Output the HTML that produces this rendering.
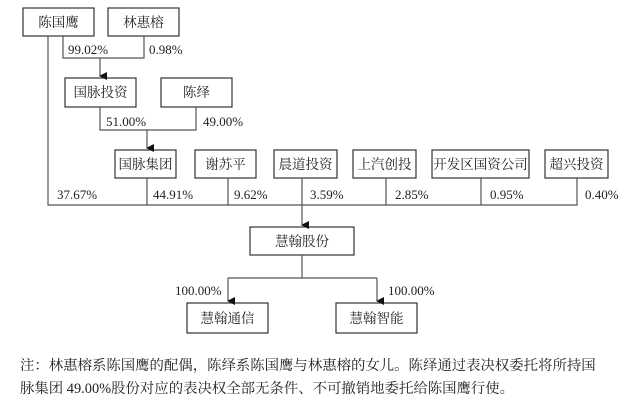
<!DOCTYPE html>
<html><head><meta charset="utf-8"><style>
body{margin:0;background:#fff;width:640px;height:405px;overflow:hidden}
svg text{font-family:"Liberation Serif","Noto Serif CJK SC",serif;fill:#222}
.b{fill:#fff;stroke:#333;stroke-width:1.2}
.l{stroke:#555;stroke-width:1.2;fill:none}
</style></head><body>
<svg width="640" height="405" xmlns="http://www.w3.org/2000/svg">
<defs><marker id="a" markerWidth="8" markerHeight="8" refX="4" refY="7" orient="auto" markerUnits="userSpaceOnUse"><path d="M0,0 L8,0 L4,8 z" fill="#111"/></marker></defs>
<g font-size="13.5" text-anchor="middle">
<rect class="b" x="23" y="8" width="71" height="28"/><text x="58.5" y="27">陈国鹰</text>
<rect class="b" x="108" y="8" width="71" height="28"/><text x="143.5" y="27">林惠榕</text>
<rect class="b" x="65" y="78" width="71" height="29"/><text x="100.5" y="97">国脉投资</text>
<rect class="b" x="161" y="78" width="71" height="29"/><text x="196.5" y="97">陈绎</text>
<rect class="b" x="115" y="150" width="61" height="28"/><text x="145.5" y="169">国脉集团</text>
<rect class="b" x="195" y="150" width="61" height="28"/><text x="225.5" y="169">谢苏平</text>
<rect class="b" x="274" y="150" width="63" height="28"/><text x="305.5" y="169">晨道投资</text>
<rect class="b" x="353" y="150" width="63" height="28"/><text x="384.5" y="169">上汽创投</text>
<rect class="b" x="432" y="150" width="97" height="28"/><text x="480.5" y="169">开发区国资公司</text>
<rect class="b" x="545" y="150" width="63" height="28"/><text x="576.5" y="169">超兴投资</text>
<rect class="b" x="250" y="227" width="104" height="28"/><text x="302" y="246">慧翰股份</text>
<rect class="b" x="187" y="303" width="81" height="30"/><text x="227.5" y="323">慧翰通信</text>
<rect class="b" x="336" y="303" width="81" height="30"/><text x="376.5" y="323">慧翰智能</text>
</g>
<path class="l" d="M63,36V58H144V36"/>
<path class="l" d="M100,58V76" marker-end="url(#a)"/>
<path class="l" d="M100,107V130H196V107"/>
<path class="l" d="M147,130V148" marker-end="url(#a)"/>
<path class="l" d="M48,36V205H577V178 M147,178V205 M228,178V205 M302,178V205 M386,178V205 M481,178V205"/>
<path class="l" d="M302,205V225" marker-end="url(#a)"/>
<path class="l" d="M302,255V278 M228,278H377"/>
<path class="l" d="M228,278V301" marker-end="url(#a)"/>
<path class="l" d="M377,278V301" marker-end="url(#a)"/>
<g font-size="13">
<text x="68" y="54">99.02%</text><text x="149" y="54">0.98%</text>
<text x="106" y="126">51.00%</text><text x="203" y="126">49.00%</text>
<text x="57" y="199">37.67%</text><text x="153" y="199">44.91%</text><text x="234" y="199">9.62%</text>
<text x="310" y="199">3.59%</text><text x="395" y="199">2.85%</text><text x="490" y="199">0.95%</text><text x="585" y="199">0.40%</text>
<text x="175" y="295">100.00%</text><text x="388" y="295">100.00%</text>
</g>
<g font-size="14.4">
<text x="20" y="370">注：林惠榕系陈国鹰的配偶，陈绎系陈国鹰与林惠榕的女儿。陈绎通过表决权委托将所持国</text>
<text x="20" y="393">脉集团 49.00%股份对应的表决权全部无条件、不可撤销地委托给陈国鹰行使。</text>
</g>
</svg>
</body></html>
